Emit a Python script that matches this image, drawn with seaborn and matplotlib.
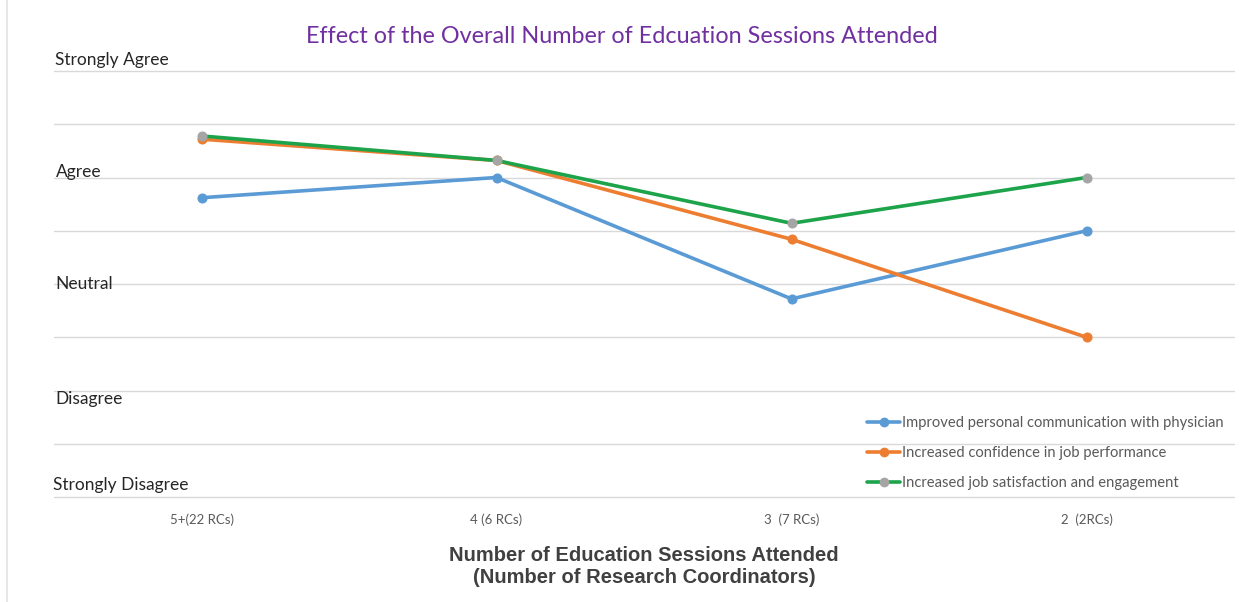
import matplotlib
matplotlib.use("Agg")
import matplotlib.pyplot as plt
import seaborn as sns
import pandas as pd
from matplotlib.lines import Line2D

# data (1 = Strongly Disagree ... 5 = Strongly Agree)
sessions = ['5+(22 RCs)', '4 (6 RCs)', '3  (7 RCs)', '2  (2RCs)']
communication = [3.81, 4.00, 2.86, 3.50]
confidence = [4.36, 4.16, 3.42, 2.50]
satisfaction = [4.39, 4.16, 3.57, 4.00]
series_names = ['Improved personal communication with physician',
                'Increased confidence in job performance',
                'Increased job satisfaction and engagement']
scale_labels = ['Strongly Disagree', 'Disagree', 'Neutral', 'Agree', 'Strongly Agree']

line_colors = ['#5B9BD5', '#ED7D31', '#1DA34A']
marker_colors = ['#5B9BD5', '#ED7D31', '#A5A5A5']

sns.set_style('white')
plt.rcParams['font.family'] = ['Lato', 'DejaVu Sans']

fig = plt.figure(figsize=(12.5, 6.02), dpi=100)
ax = fig.add_axes([54 / 1250, 1 - 497 / 602, 1180 / 1250, 426 / 602])

for name, values, lc, mc in zip(series_names, [communication, confidence, satisfaction],
                                line_colors, marker_colors):
    df = pd.DataFrame({'x': range(len(sessions)), 'y': values})
    sns.lineplot(data=df, x='x', y='y', ax=ax, color=lc, linewidth=2.6,
                 marker='o', markersize=6.5, markerfacecolor=mc, markeredgecolor=mc,
                 label=name, zorder=3)

ax.set_xlim(-0.5, len(sessions) - 0.5)
ax.set_ylim(1, 5)
ax.set_yticks([1 + 0.5 * i for i in range(9)])
ax.set_yticklabels([])
ax.grid(axis='y', color='#D9D9D9', linewidth=1)
ax.grid(axis='x', visible=False)
for gl in ax.get_ygridlines():
    gl.set_clip_on(False)
ax.tick_params(length=0)
for s in ax.spines.values():
    s.set_visible(False)

ax.set_xticks(range(len(sessions)))
ax.set_xticklabels(sessions, fontsize=9.5, color='#595959', fontstretch='condensed')
ax.tick_params(axis='x', pad=12)
ax.set_xlabel('Number of Education Sessions Attended\n(Number of Research Coordinators)',
              fontsize=14.5, fontweight='bold', color='#404040', labelpad=14,
              linespacing=1.25, family=['Liberation Sans Narrow', 'Liberation Sans', 'DejaVu Sans'])
ax.set_ylabel('')

# scale labels sit inside the plot, at the left edge
offsets = {1: 0.11, 2: -0.08, 3: 0.0, 4: 0.05, 5: 0.1}
for i, lab in enumerate(scale_labels):
    v = i + 1
    x0 = -0.505 if v == 1 else -0.495
    ax.text(x0, v + offsets[v], lab, fontsize=12.5, color='#262626',
            va='center', ha='left', zorder=4)

fig.suptitle('Effect of the Overall Number of Edcuation Sessions Attended',
             x=0.4975, y=0.957, fontsize=16.8, color='#7030A0')

handles = [Line2D([0], [0], color=lc, linewidth=2.6, marker='o', markersize=6,
                  markerfacecolor=mc, markeredgecolor=mc)
           for lc, mc in zip(line_colors, marker_colors)]
leg = ax.legend(handles, series_names, loc='lower right', bbox_to_anchor=(1.0, -0.008),
                frameon=False, fontsize=10.6, handlelength=2.2, handletextpad=0.15,
                labelspacing=1.1, borderaxespad=0.3)
for t in leg.get_texts():
    t.set_color('#595959')

fig.add_artist(Line2D([7 / 1250, 7 / 1250], [0, 1], color='#E3E3E3', linewidth=1.2))

fig.savefig('out.png', dpi=100)
